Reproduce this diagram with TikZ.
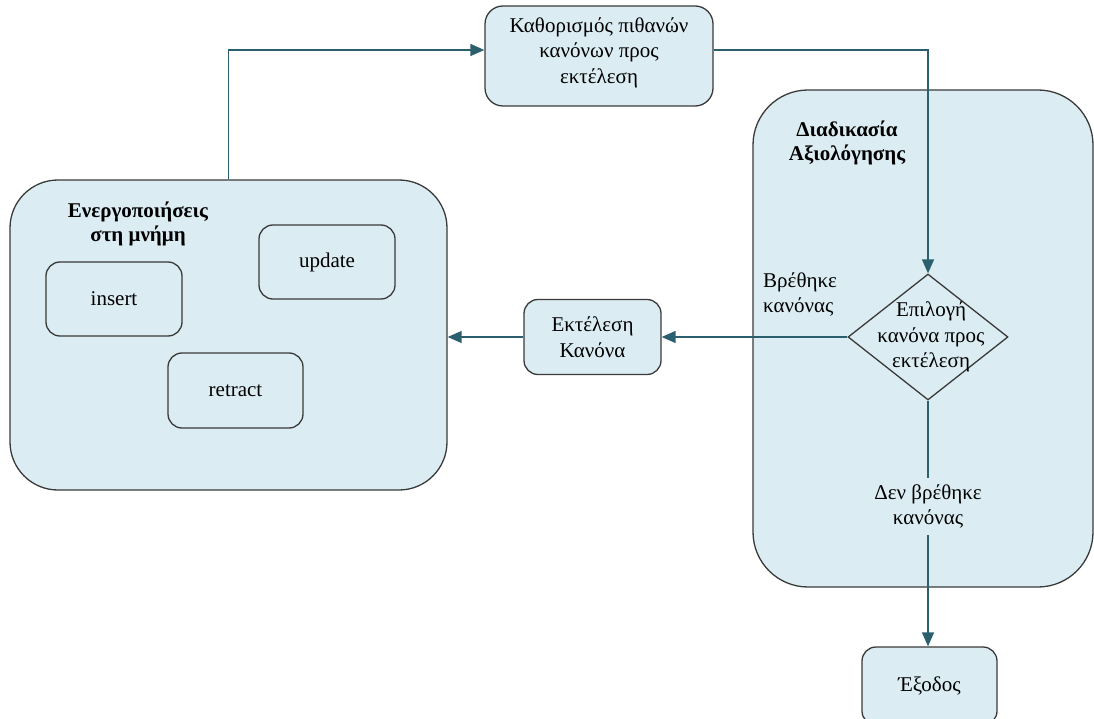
\documentclass[tikz,border=0pt]{standalone}
\usepackage{fontspec}
\setmainfont{Liberation Serif}
\usetikzlibrary{arrows.meta,shapes.geometric}
\definecolor{boxfill}{HTML}{DBEDF3}
\definecolor{boxline}{HTML}{3A3A3A}
\definecolor{flow}{HTML}{2B5F6E}
\tikzset{
  panel/.style={draw=boxline,fill=boxfill,line width=1.3pt,rounded corners=48pt,inner sep=0pt},
  stepbox/.style={draw=boxline,fill=boxfill,line width=1.3pt,rounded corners=14pt,inner sep=0pt,align=center,font=\fontsize{21}{26}\selectfont},
  txt/.style={align=center,inner sep=0pt,font=\fontsize{21}{25.5}\selectfont},
  title/.style={align=center,inner sep=0pt,font=\fontsize{21}{24.5}\selectfont\bfseries},
  flowline/.style={draw=flow,line width=1.5pt,-{Triangle[length=14pt,width=12pt]}},
}
\begin{document}
\begin{tikzpicture}[x=1pt,y=-1pt]
\useasboundingbox (0,0) rectangle (1094,719);
\clip (0,0) rectangle (1094,719);

% large panels
\node[panel,minimum width=437pt,minimum height=310pt] (mem) at (228.5,335) {};
\node[panel,minimum width=340pt,minimum height=497pt,rounded corners=55pt] (eval) at (923,338.5) {};

\node[title] (memtitle) at (138,224) {Ενεργοποιήσεις\\στη μνήμη};
\node[title] (evaltitle) at (847,143) {Διαδικασία\\Αξιολόγησης};

% memory actions
\node[stepbox,minimum width=136pt,minimum height=74pt] (ins) at (114,299) {insert};
\node[stepbox,minimum width=136pt,minimum height=74pt] (upd) at (327,262) {update};
\node[stepbox,minimum width=135pt,minimum height=75pt] (ret) at (235.5,390.5) {retract};

% flow nodes
\node[stepbox,minimum width=228pt,minimum height=100pt,rounded corners=18pt] (cand) at (599,56) {};
\node[txt] (candtext) at (599,52.5) {Καθορισμός πιθανών\\κανόνων προς\\εκτέλεση};
\node[stepbox,minimum width=137pt,minimum height=75pt] (exec) at (592.5,337) {Εκτέλεση\\Κανόνα};
\node[draw=boxline,fill=boxfill,line width=1.3pt,diamond,inner sep=0pt,minimum width=160pt,minimum height=126pt] (sel) at (928,337) {};
\node[txt] (seltext) at (931,337) {Επιλογή\\κανόνα προς\\εκτέλεση};
\node[stepbox,minimum width=135pt,minimum height=78pt] (exit) at (929.5,686) {Έξοδος};

% connectors
\draw[flowline] (mem.north) |- ([yshift=6pt]cand.west);
\draw[flowline] ([yshift=6pt]cand.east) -| (sel.north);
\draw[flowline] (sel.west) -- (exec.east);
\draw[flowline] (exec.west) -- (exec.west -| mem.east);
\draw[flowline] (sel.south) -- (sel.south |- exit.north);

% connector labels
\node[txt,align=left,anchor=west] (found) at (763,294.5) {Βρέθηκε\\κανόνας};
\node[txt,fill=boxfill,inner ysep=6pt,inner xsep=2pt] (notfound) at (928,506.5) {Δεν βρέθηκε\\κανόνας};
\end{tikzpicture}
\end{document}
